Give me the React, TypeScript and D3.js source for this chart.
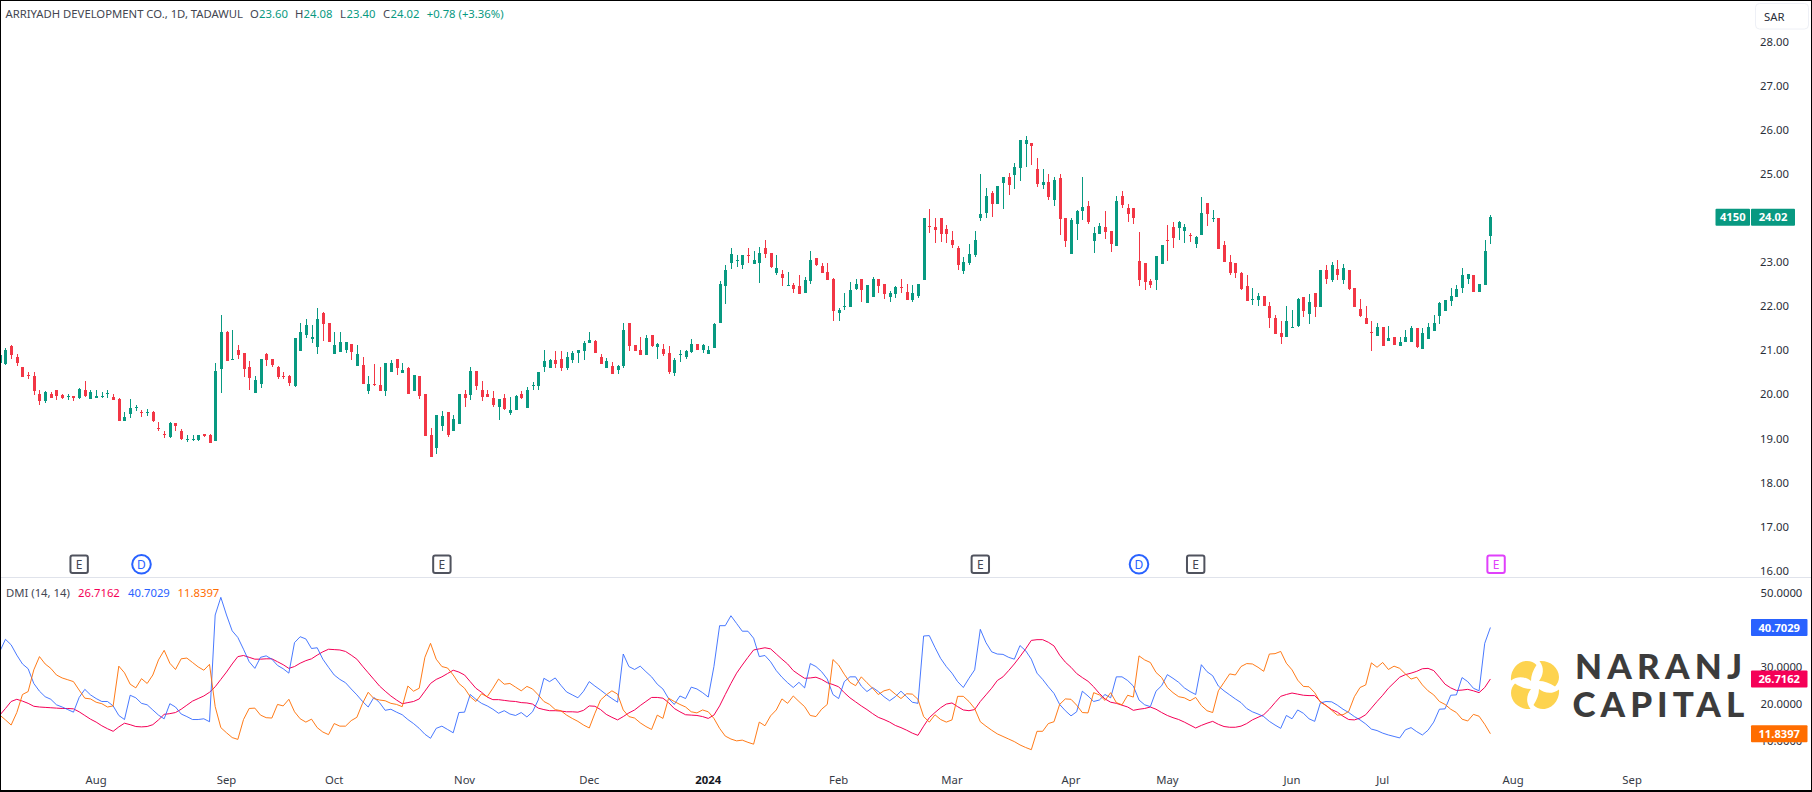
import React from "react";
import * as d3 from "d3";

const W = 1812;
const H = 792;

const opens = [20.72,20.70,21.10,20.85,20.62,20.45,20.42,20.01,19.85,20.01,20.10,19.98,19.94,19.96,19.92,20.10,19.89,19.92,19.94,20.01,19.94,19.89,19.39,19.55,19.69,19.61,19.58,19.60,19.23,19.11,19.03,19.35,19.17,18.96,18.96,18.96,19.10,19.08,18.94,20.57,21.41,20.78,21.01,20.94,20.62,20.03,20.23,20.91,20.80,20.62,20.42,20.42,20.19,20.98,21.35,21.26,21.07,21.85,21.62,20.91,20.96,21.01,21.14,20.64,20.66,20.08,20.23,20.21,20.08,20.51,20.80,20.48,20.60,20.08,20.42,20.01,19.08,18.78,19.28,19.60,19.17,19.33,20.01,19.98,20.53,20.10,20.01,19.92,19.71,19.92,19.58,19.64,20.01,19.69,20.19,20.19,20.62,20.60,20.78,20.80,20.60,20.78,20.94,20.98,21.16,21.21,
20.85,20.60,20.64,20.55,20.64,21.62,21.12,21.01,20.89,21.34,21.07,21.03,20.94,20.48,20.89,20.85,20.96,21.14,21.01,20.91,21.05,21.62,22.46,22.98,23.02,22.93,23.16,22.96,22.98,23.32,23.21,22.75,22.73,22.46,22.48,22.46,22.30,22.57,23.09,22.91,22.77,22.62,21.84,21.98,21.98,22.39,22.62,22.07,22.21,22.62,22.50,22.21,22.28,22.43,22.32,22.14,22.23,22.59,23.82,23.80,24.00,23.75,23.50,23.32,22.80,22.98,23.16,24.00,24.11,24.57,24.32,24.79,24.93,24.98,25.13,25.68,25.70,25.11,24.75,24.82,24.41,24.91,24.00,23.18,23.86,24.16,24.27,23.48,23.64,23.80,23.70,23.36,24.50,24.23,24.23,23.02,22.98,22.57,22.59,22.96,23.50,23.80,23.77,23.70,23.61,23.41,
23.61,24.34,23.98,24.00,23.39,23.00,22.98,22.75,22.46,22.14,22.14,22.23,22.00,21.73,21.39,21.30,21.50,21.55,22.21,21.82,22.30,21.98,22.82,22.59,22.84,22.59,22.82,22.41,21.93,21.73,21.41,21.32,21.53,21.21,21.30,21.10,21.19,21.19,21.50,21.03,21.25,21.44,21.78,21.89,22.12,22.21,22.41,22.62,22.71,22.32,22.48,23.60];
const highs = [20.95,21.05,21.12,20.91,20.62,20.50,20.51,20.10,20.08,20.05,20.10,20.01,20.01,19.96,20.14,20.30,20.10,20.10,20.05,20.10,20.01,19.92,19.60,19.89,19.76,19.64,19.67,19.62,19.37,19.17,19.37,19.35,19.21,19.08,19.08,19.08,19.10,19.10,20.71,21.80,21.44,21.46,21.12,20.94,20.76,20.42,20.80,20.94,20.80,20.64,20.51,20.44,21.28,21.62,21.71,21.57,21.96,21.87,21.62,21.41,21.41,21.19,21.14,21.12,20.85,20.42,20.69,20.62,20.71,20.78,20.80,20.71,20.62,20.44,20.42,20.01,19.24,19.53,19.62,19.60,19.53,20.01,20.10,20.62,20.53,20.30,20.10,20.08,19.89,20.01,19.94,19.98,20.08,20.17,20.28,20.51,21.01,20.80,20.98,20.98,20.96,20.98,21.01,21.21,21.41,21.23,
20.91,20.82,20.73,20.66,21.62,21.62,21.12,21.30,21.34,21.34,21.16,21.14,21.10,20.82,21.01,21.01,21.25,21.14,21.14,21.10,21.62,22.57,22.93,23.32,23.16,23.16,23.32,23.25,23.34,23.50,23.21,23.16,22.82,22.77,22.52,22.71,22.66,23.25,23.09,22.98,22.98,22.64,21.96,22.30,22.55,22.62,22.62,22.48,22.66,22.62,22.50,22.34,22.46,22.62,22.50,22.48,22.50,24.00,24.20,24.00,24.00,23.84,23.71,23.36,23.11,23.41,23.71,25.00,24.68,24.61,24.73,24.93,25.02,25.25,25.77,25.86,25.70,25.36,25.11,25.00,24.93,25.00,24.00,24.00,24.18,24.93,24.39,23.80,23.89,24.16,23.70,24.50,24.61,24.32,24.23,23.68,22.98,22.62,23.14,23.39,23.84,23.91,23.93,23.86,23.66,23.59,
24.48,24.34,24.18,24.00,23.48,23.16,22.98,22.77,22.71,22.41,22.30,22.23,22.09,21.80,21.66,22.00,21.91,22.18,22.21,22.28,22.30,22.82,22.93,23.00,23.05,22.96,22.82,22.41,22.16,22.00,21.66,21.62,21.53,21.55,21.30,21.30,21.46,21.55,21.50,21.50,21.62,21.80,22.09,22.14,22.41,22.48,22.87,22.73,22.71,22.50,23.50,24.08];
const lows = [20.69,20.66,20.80,20.64,20.39,20.35,19.98,19.76,19.80,19.92,19.87,19.89,19.87,19.85,19.89,19.94,19.89,19.92,19.92,19.92,19.87,19.39,19.39,19.46,19.62,19.49,19.51,19.37,19.17,19.01,19.01,19.17,18.96,18.92,18.94,18.94,19.03,18.89,18.94,20.03,20.76,20.78,20.80,20.39,20.10,20.03,20.14,20.64,20.62,20.35,20.35,20.19,20.17,20.98,21.28,21.16,20.91,21.21,21.19,20.91,20.96,20.94,20.78,20.64,20.23,20.01,20.19,20.08,19.96,20.51,20.44,20.48,20.01,20.08,19.89,19.05,18.58,18.65,19.17,19.03,19.17,19.33,19.71,19.87,20.10,19.85,19.94,19.71,19.42,19.64,19.53,19.64,19.89,19.69,20.10,20.10,20.51,20.60,20.60,20.53,20.55,20.71,20.71,20.78,21.16,20.94,
20.69,20.60,20.46,20.46,20.60,20.98,20.98,20.89,20.89,21.07,20.80,20.87,20.46,20.42,20.73,20.80,20.94,21.01,20.94,20.91,21.05,21.62,22.05,22.84,22.89,22.84,22.98,22.96,22.52,23.09,22.87,22.71,22.46,22.46,22.30,22.28,22.30,22.50,22.91,22.75,22.59,21.66,21.66,21.91,21.98,22.37,22.09,22.07,22.21,22.30,22.16,22.09,22.18,22.30,22.14,22.09,22.18,22.59,23.66,23.43,23.46,23.43,23.32,22.82,22.73,22.93,23.11,23.93,24.00,24.02,24.32,24.20,24.52,24.66,24.84,25.16,25.20,24.70,24.66,24.41,24.27,23.61,23.34,23.18,23.50,23.95,23.86,23.21,23.64,23.52,23.23,23.36,24.23,23.91,23.86,22.46,22.37,22.41,22.37,22.96,23.02,23.32,23.50,23.43,23.46,23.32,
23.61,23.82,23.91,23.30,23.00,22.71,22.64,22.37,22.12,22.03,22.00,22.00,21.50,21.37,21.14,21.30,21.50,21.53,21.75,21.59,21.75,21.98,22.50,22.55,22.59,22.50,22.37,21.98,21.75,21.59,20.98,21.32,21.10,21.21,21.12,21.10,21.19,21.19,21.05,21.03,21.25,21.44,21.59,21.89,22.00,22.21,22.30,22.50,22.32,22.32,22.48,23.40];
const closes = [20.90,21.01,20.89,20.71,20.39,20.42,20.08,19.85,20.05,19.92,19.96,19.92,19.96,19.92,20.12,19.96,20.05,19.96,19.96,20.03,19.87,19.39,19.49,19.69,19.71,19.59,19.60,19.39,19.21,19.08,19.35,19.28,18.99,18.98,18.98,19.08,19.05,18.89,20.53,21.41,20.76,20.80,20.89,20.57,20.37,20.32,20.80,20.78,20.66,20.39,20.39,20.26,21.28,21.41,21.57,21.30,21.71,21.60,21.19,21.12,21.19,21.19,20.96,20.91,20.23,20.23,20.21,20.08,20.71,20.71,20.60,20.55,20.01,20.44,19.96,19.05,18.58,19.53,19.51,19.08,19.44,20.01,19.92,20.53,20.19,19.94,19.94,19.76,19.89,19.67,19.64,19.96,19.92,20.10,20.21,20.51,20.76,20.79,20.69,20.60,20.85,20.94,21.01,21.16,21.23,20.94,
20.69,20.76,20.46,20.64,21.46,21.10,20.98,20.89,21.28,21.10,21.14,20.91,20.51,20.78,20.91,20.98,21.14,21.01,21.12,21.01,21.59,22.50,22.82,23.18,23.05,23.16,23.14,23.05,23.21,23.18,22.89,22.87,22.64,22.48,22.39,22.28,22.59,23.05,22.93,22.75,22.59,21.89,21.91,22.00,22.37,22.50,22.37,22.48,22.62,22.46,22.28,22.30,22.43,22.41,22.14,22.30,22.50,24.00,23.80,23.73,23.64,23.64,23.39,22.93,23.00,23.18,23.50,24.09,24.50,24.32,24.73,24.93,24.75,25.16,25.77,25.77,25.63,24.77,24.82,24.48,24.86,23.98,23.48,23.95,24.16,24.25,23.91,23.66,23.82,23.68,23.41,24.39,24.30,24.09,24.00,22.59,22.55,22.48,23.14,23.39,23.48,23.55,23.91,23.80,23.59,23.57,
24.11,24.09,24.00,23.30,23.00,22.75,22.75,22.39,22.12,22.16,22.23,22.00,21.73,21.37,21.30,21.66,21.53,22.16,21.89,22.09,21.98,22.82,22.62,22.93,22.71,22.87,22.39,21.98,21.78,21.59,21.39,21.53,21.10,21.28,21.12,21.19,21.30,21.50,21.07,21.39,21.53,21.62,22.07,22.14,22.23,22.39,22.71,22.73,22.32,22.50,23.25,24.02];

const adx = [16.9,18.7,20.6,21.2,20.7,20.1,19.3,19.1,19.0,18.9,18.8,18.7,18.7,18.6,17.8,16.8,15.8,15.0,14.0,13.2,12.5,13.7,14.7,14.3,13.8,13.7,13.8,14.3,15.6,17.1,17.3,17.6,18.5,19.6,20.7,21.4,22.1,23.1,24.6,26.6,28.6,30.8,32.8,33.1,32.6,32.1,32.1,32.2,32.2,31.4,30.6,29.6,30.1,31.0,31.7,32.2,33.2,34.1,34.8,34.7,34.6,34.2,33.2,32.1,30.2,28.4,26.6,24.8,23.4,22.1,21.0,20.0,20.3,20.6,21.3,23.4,25.5,26.6,27.3,28.2,29.1,28.6,27.8,26.0,24.2,23.1,21.8,21.1,21.1,
20.9,20.7,20.6,20.3,20.2,19.9,18.8,18.4,18.1,18.1,18.0,17.8,17.8,17.7,18.2,19.4,19.3,18.4,17.1,16.3,15.6,16.5,17.5,18.3,19.5,20.6,21.7,21.7,21.5,20.3,18.7,17.8,17.0,16.9,16.8,16.5,16.0,16.9,19.4,22.5,25.5,28.3,30.5,32.6,34.6,34.9,35.2,34.9,33.5,32.1,30.8,29.0,27.9,26.9,27.0,27.2,26.6,25.7,25.2,24.6,23.0,21.6,20.5,19.4,18.4,17.3,16.3,15.7,15.0,14.1,13.5,12.8,12.0,11.4,13.9,16.2,17.6,18.9,19.9,20.2,19.2,18.3,18.1,18.4,20.6,22.4,24.2,26.3,
27.3,29.0,30.8,32.8,34.9,37.2,37.4,37.4,36.7,35.7,33.2,31.3,29.9,28.2,27.1,26.1,24.6,22.8,21.3,20.4,20.1,19.6,19.1,18.2,18.5,18.7,19.1,18.5,17.6,16.8,16.2,15.7,15.0,14.2,13.4,14.1,14.7,15.2,14.4,13.8,13.6,13.6,13.9,14.6,15.6,16.3,17.0,18.5,20.3,22.0,22.5,22.9,22.6,22.3,22.2,22.2,20.6,19.5,18.4,17.7,16.6,15.7,15.6,16.1,17.0,18.8,20.6,22.3,24.2,25.7,27.2,27.9,28.3,28.8,29.5,29.6,29.0,27.2,25.3,24.3,23.6,23.7,23.9,23.5,23.0,24.4,26.7162];
const diPlus = [34.2,37.5,36.0,33.2,30.8,29.5,25.5,23.4,21.9,21.2,19.7,19.1,18.4,17.7,21.7,23.9,22.4,21.4,20.6,20.6,19.4,16.8,15.7,22.3,21.6,20.1,19.7,18.3,16.9,15.9,20.0,19.1,17.2,16.5,15.7,15.7,15.9,15.1,44.1,48.9,44.1,39.8,38.0,34.8,31.4,29.6,32.6,33.0,32.1,30.4,29.5,28.3,36.6,38.2,37.6,35.0,35.2,32.1,29.9,27.8,26.6,25.7,24.0,22.4,20.6,19.1,21.7,20.3,18.2,18.5,17.7,17.0,15.7,14.6,13.3,11.7,10.6,13.3,13.9,13.0,12.1,17.6,17.7,22.5,21.2,20.1,19.4,18.5,17.4,
18.1,17.2,16.8,17.6,16.4,17.8,21.0,26.9,26.0,27.0,25.0,23.2,22.4,21.6,23.4,26.0,24.8,23.7,22.5,21.4,20.4,33.5,30.1,29.3,30.2,28.7,27.3,25.3,24.0,21.4,19.8,22.1,21.4,24.5,24.0,23.0,21.8,30.1,41.2,41.2,43.9,41.8,39.7,39.7,37.8,32.8,33.1,31.4,29.0,27.2,25.7,24.4,25.8,24.3,30.9,30.1,28.7,26.7,22.5,21.4,26.0,27.3,27.3,24.8,23.3,24.4,23.3,21.9,20.8,21.9,23.4,21.9,20.4,20.1,38.4,38.5,35.3,32.3,30.1,28.3,26.0,24.4,26.9,29.2,40.2,36.6,34.1,33.5,
33.4,32.6,32.1,35.8,34.4,32.1,28.3,26.6,24.6,22.8,19.8,18.1,16.7,17.8,23.4,22.1,20.6,21.0,22.5,21.6,27.3,27.3,26.3,24.8,21.0,19.7,19.2,23.4,24.9,27.9,26.9,25.8,24.3,23.3,22.5,30.6,28.7,27.6,24.8,23.5,22.4,21.3,20.3,18.7,17.8,17.2,16.5,15.2,14.2,13.3,16.8,15.9,18.3,17.4,15.9,15.2,20.2,20.6,20.5,19.6,18.5,17.6,16.5,15.6,14.5,13.1,12.7,12.0,11.5,11.1,10.7,12.9,13.5,12.4,11.5,12.8,15.0,18.5,18.6,22.3,22.4,27.1,26.0,24.2,23.5,36.4,40.7029];
const diMinus = [16.9,15.6,14.2,17.6,22.5,23.3,29.2,32.8,30.8,29.6,27.8,27.0,26.5,26.0,23.7,21.5,21.3,20.4,20.0,19.1,19.4,30.2,28.4,25.3,24.3,26.8,25.5,27.8,31.9,34.5,31.0,29.3,32.2,32.4,31.2,30.0,29.1,30.7,19.2,13.5,12.1,10.8,10.3,15.7,18.7,18.8,16.9,16.2,16.1,19.8,19.4,21.2,17.8,15.9,15.0,15.8,13.5,12.3,11.6,14.6,13.9,13.9,15.4,16.3,20.1,23.1,21.4,21.0,20.8,20.1,19.8,19.2,24.8,23.4,24.2,32.6,36.4,32.1,30.1,29.7,27.8,25.5,24.2,21.9,20.6,22.7,21.9,24.2,26.7,
25.3,25.5,24.5,23.5,24.7,24.0,22.4,20.6,19.8,18.4,18.1,16.9,16.0,15.2,14.2,13.4,17.4,21.0,22.4,23.5,22.6,18.3,16.5,16.1,14.8,13.8,13.0,16.9,16.0,21.5,20.6,19.8,19.1,17.8,17.5,18.3,17.8,16.0,13.3,11.2,10.4,9.9,10.1,9.5,9.0,15.0,14.0,16.7,18.3,21.3,20.1,22.1,20.6,19.2,16.8,16.5,18.5,19.8,32.0,30.5,28.0,25.8,24.9,27.3,25.7,24.2,22.5,23.5,23.9,22.6,21.4,22.7,22.6,21.2,16.5,15.0,17.0,15.7,15.0,15.6,22.0,22.0,20.6,18.7,15.1,13.9,12.8,11.8,
11.1,10.4,9.7,8.8,8.1,7.5,12.5,12.5,14.6,15.1,19.8,21.3,21.2,19.6,17.6,17.5,23.0,22.4,20.9,23.0,20.3,19.7,22.3,21.8,33.0,31.9,31.2,28.5,27.1,24.4,23.0,21.9,21.6,20.8,21.7,19.5,18.1,17.6,23.5,25.8,28.1,27.8,30.1,30.9,30.8,29.9,28.8,33.5,33.6,34.2,31.0,29.2,26.4,24.7,24.6,23.0,20.4,19.5,18.2,16.9,17.0,17.9,21.9,24.4,25.1,31.1,29.9,31.2,29.3,30.2,29.6,28.1,26.7,27.2,25.1,23.5,22.4,20.6,19.8,18.5,17.6,15.8,15.3,17.1,16.6,14.4,11.8397];

const priceTicks = [28, 27, 26, 25, 24, 23, 22, 21, 20, 19, 18, 17, 16];
const dmiTicks = [50, 30, 20, 10];
const monthLabels = ["Aug", "Sep", "Oct", "Nov", "Dec", "2024", "Feb", "Mar", "Apr", "May", "Jun", "Jul", "Aug", "Sep"];
const monthBars = [17, 40, 59, 82, 104, 125, 148, 168, 189, 206, 228, 244, 267, 288];
const eventKinds = ["E", "D", "E", "E", "D", "E", "E"];
const eventBars = [14, 25, 78, 173, 201, 211, 264];

const UP = "#089981";
const DOWN = "#f23645";
const BLUE = "#2962ff";
const PINK = "#f50057";
const ORANGE = "#ff6d00";
const INK = "#131722";
const FONT = "'Noto Sans', 'Open Sans', sans-serif";
const TEXT_SIZE = 11.3;

const x = d3.scaleLinear().domain([0, 263]).range([-0.2, 1490.4]);
const yPrice = d3.scaleLinear().domain([28, 16]).range([41.7, 570.7]);
const yDmi = d3.scaleLinear().domain([50, 10]).range([593.3, 740.5]);
const dmiLine = d3
  .line<number>()
  .x((_, i) => x(i))
  .y((v) => yDmi(v));

function Tag({ left, right, cy, fill, text, size = 11.2 }: { left: number; right: number; cy: number; fill: string; text: string; size?: number }) {
  return (
    <g>
      <rect x={left} y={cy - 8.5} width={right - left} height={17} rx={1} fill={fill} />
      <text x={(left + right) / 2} y={cy + 4.1} textAnchor="middle" fontSize={size} fontWeight={700} fill="#fff">
        {text}
      </text>
    </g>
  );
}

const petal = "M4.5,-24 C14,-25 24,-18 24,-8 C24,-4 22.5,-1 20,1.5 C15,-2 9,-4 4,-4 C8,-9 10,-17 4.5,-24 Z";

export default function App() {
  const legendY = 17.7;
  const dmiY = 596.5;
  return (
    <svg
      width={W}
      height={H}
      viewBox={`0 0 ${W} ${H}`}
      style={{ position: "absolute", left: 0, top: 0, display: "block", background: "#fff" }}
      fontFamily={FONT}
    >
      <rect width={W} height={H} fill="#fff" />

      {/* candles */}
      <g shapeRendering="crispEdges">
        {opens.map((o, i) => {
          const c = closes[i];
          const col = c >= o ? UP : DOWN;
          const cx = Math.round(x(i));
          const top = Math.round(yPrice(Math.max(o, c)));
          const bot = Math.round(yPrice(Math.min(o, c)));
          return (
            <g key={i} fill={col}>
              <rect x={cx} y={yPrice(highs[i])} width={1} height={yPrice(lows[i]) - yPrice(highs[i])} />
              <rect x={cx - 1} y={top} width={3} height={Math.max(1, bot - top)} />
            </g>
          );
        })}
      </g>

      {/* pane separator */}
      <rect x={0} y={577} width={W} height={1} fill="#e0e3eb" shapeRendering="crispEdges" />

      {/* DMI */}
      <g fill="none" strokeWidth={1} strokeLinejoin="round">
        <path d={dmiLine(adx) ?? ""} stroke={PINK} />
        <path d={dmiLine(diPlus) ?? ""} stroke={BLUE} strokeOpacity={0.85} />
        <path d={dmiLine(diMinus) ?? ""} stroke={ORANGE} strokeOpacity={0.9} />
      </g>

      {/* event markers */}
      {eventKinds.map((k, i) => {
        const cx = x(eventBars[i]);
        const cy = 564.3;
        const last = i === eventKinds.length - 1;
        const col = k === "D" ? BLUE : last ? "#e040fb" : "#50535e";
        return (
          <g key={i}>
            {k === "D" ? (
              <circle cx={cx} cy={cy} r={9.3} fill="#fff" stroke={col} strokeWidth={2} />
            ) : (
              <rect x={cx - 8.7} y={cy - 8.7} width={17.4} height={17.4} rx={2} fill="#fff" stroke={col} strokeWidth={2} />
            )}
            <text x={cx} y={cy + 4.3} textAnchor="middle" fontSize={12} fill={k === "D" ? BLUE : last ? "#e040fb" : "#434651"}>
              {k}
            </text>
          </g>
        );
      })}

      {/* legend */}
      <g fontSize={TEXT_SIZE} fill="#434651">
        <text x={5.5} y={legendY}>ARRIYADH DEVELOPMENT CO., 1D, TADAWUL</text>
        <text x={250} y={legendY}>O</text>
        <text x={259} y={legendY} fill={UP}>23.60</text>
        <text x={295} y={legendY}>H</text>
        <text x={303.5} y={legendY} fill={UP}>24.08</text>
        <text x={340} y={legendY}>L</text>
        <text x={346.5} y={legendY} fill={UP}>23.40</text>
        <text x={383} y={legendY}>C</text>
        <text x={390.5} y={legendY} fill={UP}>24.02</text>
        <text x={426.7} y={legendY} fill={UP}>+0.78 (+3.36%)</text>

        <text x={6} y={dmiY}>DMI (14, 14)</text>
        <text x={78} y={dmiY} fill={PINK}>26.7162</text>
        <text x={128} y={dmiY} fill={BLUE}>40.7029</text>
        <text x={177.5} y={dmiY} fill={ORANGE}>11.8397</text>
      </g>

      {/* time axis */}
      <g fontSize={TEXT_SIZE} fill="#363a45" textAnchor="middle">
        {monthLabels.map((m, i) => (
          <text key={i} x={x(monthBars[i])} y={784} fontWeight={m === "2024" ? 700 : 400} fill={m === "2024" ? INK : "#363a45"}>
            {m}
          </text>
        ))}
      </g>

      {/* price axis */}
      <g fontSize={TEXT_SIZE} fill="#2a2e39">
        {priceTicks.map((t) => (
          <text key={t} x={1760} y={yPrice(t) + 4.1}>
            {d3.format(".2f")(t)}
          </text>
        ))}
        {dmiTicks.map((t) => (
          <text key={t} x={1760.5} y={yDmi(t) + 4.1}>
            {d3.format(".4f")(t)}
          </text>
        ))}
      </g>

      {/* SAR */}
      <rect x={1755.5} y={3.5} width={53} height={25.5} rx={4} fill="#fff" stroke="#eef0f6" strokeWidth={1} />
      <text x={1764} y={20.5} fontSize={TEXT_SIZE} fill="#2a2e39">SAR</text>

      {/* last-value tags */}
      <Tag left={1715.5} right={1750} cy={yPrice(closes[263])} fill={UP} text="4150" />
      <Tag left={1751} right={1795} cy={yPrice(closes[263])} fill={UP} text={d3.format(".2f")(closes[263])} />
      <Tag left={1751} right={1807.5} cy={yDmi(diPlus[263])} fill={BLUE} text={d3.format(".4f")(diPlus[263])} />
      <Tag left={1751} right={1807.5} cy={yDmi(adx[263])} fill={PINK} text={d3.format(".4f")(adx[263])} />
      <Tag left={1751} right={1807.5} cy={yDmi(diMinus[263])} fill={ORANGE} text={d3.format(".4f")(diMinus[263])} />

      {/* watermark */}
      <g transform="translate(1535,685)" fill="#fdd34f">
        {[0, 90, 180, 270].map((r) => (
          <path key={r} d={petal} transform={`rotate(${r})`} />
        ))}
      </g>
      <g fontFamily="Lato, 'Open Sans', sans-serif" fontWeight={900} fill="#3c3c3c" fontSize={35}>
        <text x={1575} y={678.5} letterSpacing={5.2}>NARANJ</text>
        <text x={1572.5} y={717} letterSpacing={5}>CAPITAL</text>
      </g>

      {/* outer frame */}
      <rect x={0} y={0} width={W} height={1} fill="#000" />
      <rect x={0} y={0} width={1} height={H} fill="#000" />
      <rect x={0} y={790} width={W} height={2} fill="#000" />
      <rect x={1811} y={0} width={1} height={H} fill="#000" />
    </svg>
  );
}
